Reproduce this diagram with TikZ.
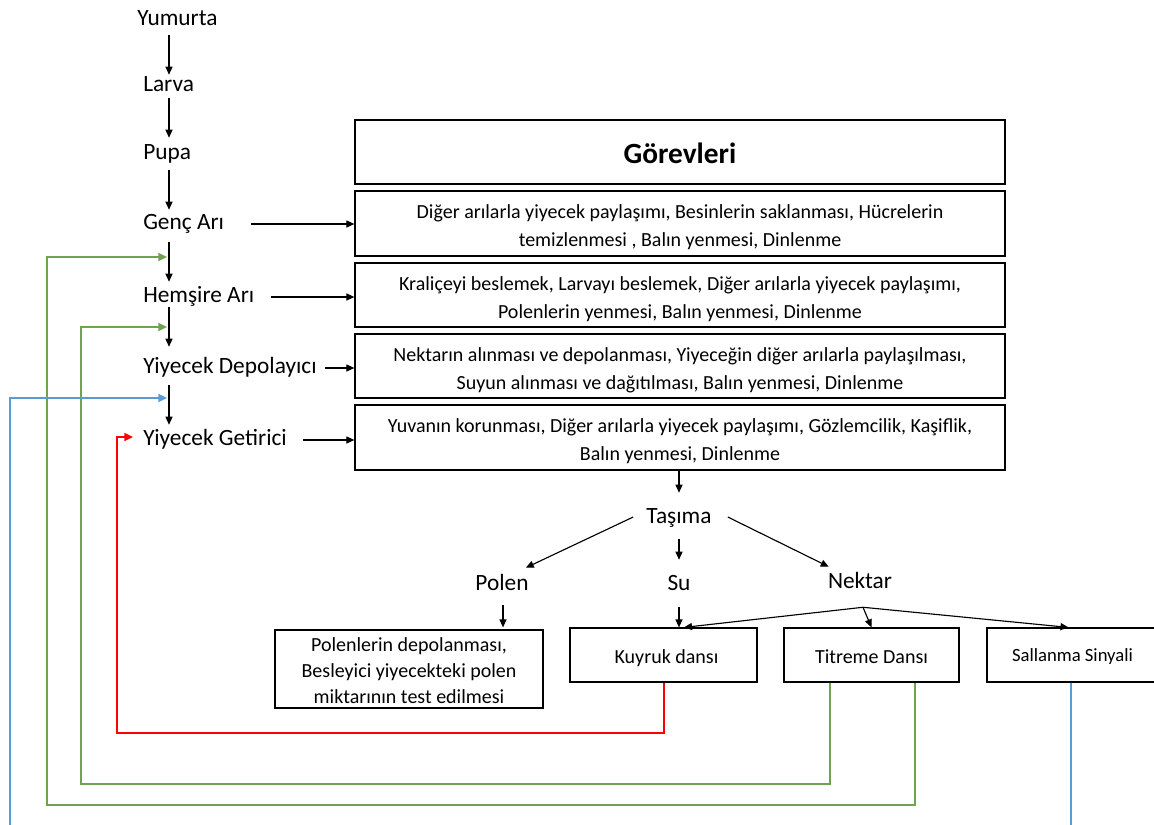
\documentclass[tikz,border=0pt]{standalone}
\usepackage{fontspec}
\setmainfont{Carlito}
\usetikzlibrary{arrows.meta}
\definecolor{grn}{RGB}{112,163,80}
\definecolor{blu}{RGB}{91,155,213}
\definecolor{rd}{RGB}{255,0,0}
\begin{document}
\begin{tikzpicture}[x=0.75pt,y=-0.75pt,
  lbl/.style={font=\fontsize{17.5}{20}\selectfont, inner sep=0pt, text height=11.25pt, text depth=3.75pt, anchor=base west},
  clbl/.style={lbl, anchor=base},
  box/.style={draw, line width=0.9pt, inner sep=0pt},
  txt/.style={inner sep=0pt, align=center, font=\fontsize{15}{21}\selectfont},
  btxt/.style={txt, font=\fontsize{15}{19.5}\selectfont},
  arr/.style={line width=0.85pt, -{Triangle[length=6pt,width=5.25pt]}},
  fb/.style={line width=1.1pt, -{Triangle[length=6.5pt,width=6pt]}}
]
\useasboundingbox (0,0) rectangle (1154,825);

% life stages
\node[lbl] (yum) at (137,25) {Yumurta};
\node[lbl] (lar) at (143,91) {Larva};
\node[lbl] (pup) at (143,159) {Pupa};
\node[lbl] (gen) at (143,229) {Genç Arı};
\node[lbl] (hem) at (143,302) {Hemşire Arı};
\node[lbl] (dep) at (143,373) {Yiyecek Depolayıcı};
\node[lbl] (get) at (143,445) {Yiyecek Getirici};
\coordinate (col) at (169,0);

\draw[arr, shorten <=3.75pt, shorten >=0.75pt] (yum.south -| col) -- (lar.north -| col);
\draw[arr, shorten <=1.5pt, shorten >=4.5pt] (lar.south -| col) -- (pup.north -| col);
\draw[arr, shorten <=4.5pt, shorten >=3pt] (pup.south -| col) -- (gen.north -| col);
\draw[arr, shorten <=6pt, shorten >=3.75pt] (gen.south -| col) -- (hem.north -| col);
\draw[arr, shorten <=0pt, shorten >=8.25pt] (hem.south -| col) -- (dep.north -| col);
\draw[arr, shorten <=5.25pt, shorten >=3.75pt] (dep.south -| col) -- (get.north -| col);

% task boxes
\node[box, minimum width=487.5pt, minimum height=48pt] (gor) at (680,152) {};
\node[txt, font=\fontsize{22}{24}\selectfont\bfseries] at ([shift={(0,1)}]gor.center) {Görevleri};
\node[box, minimum width=487.5pt, minimum height=48.75pt] (b1) at (680,223.5) {};
\node[txt] at ([shift={(0,4)}]b1.center) {Diğer arılarla yiyecek paylaşımı, Besinlerin saklanması, Hücrelerin\\temizlenmesi , Balın yenmesi, Dinlenme};
\node[box, minimum width=487.5pt, minimum height=48pt] (b2) at (680,295) {};
\node[txt] at ([shift={(0,4)}]b2.center) {Kraliçeyi beslemek, Larvayı beslemek, Diğer arılarla yiyecek paylaşımı,\\Polenlerin yenmesi, Balın yenmesi, Dinlenme};
\node[box, minimum width=487.5pt, minimum height=48pt] (b3) at (680,366) {};
\node[txt] at ([shift={(0,4)}]b3.center) {Nektarın alınması ve depolanması, Yiyeceğin diğer arılarla paylaşılması,\\Suyun alınması ve dağıtılması, Balın yenmesi, Dinlenme};
\node[box, minimum width=487.5pt, minimum height=48.75pt] (b4) at (680,437.5) {};
\node[txt] at ([shift={(0,4)}]b4.center) {Yuvanın korunması, Diğer arılarla yiyecek paylaşımı, Gözlemcilik, Kaşiflik,\\Balın yenmesi, Dinlenme};

\draw[arr, shorten <=20.25pt] (gen.east) -- (gen -| b1.west);
\draw[arr, shorten <=12pt] (hem.east) -- (hem -| b2.west);
\draw[arr, shorten <=6pt] (dep.east) -- (dep -| b3.west);
\draw[arr, shorten <=12pt] (get.east) -- (get -| b4.west);

% transport
\node[clbl] (tas) at (679,523) {Taşıma};
\node[clbl] (pol) at (502,590) {Polen};
\node[clbl] (su) at (679,590) {Su};
\node[clbl] (nek) at (860,588) {Nektar};

\draw[arr, shorten >=11.25pt] (b4.south -| tas) -- (tas.north);
\draw[arr] ([shift={(-13,-1)}]tas.west) -- ([shift={(-3,-7)}]pol.north east);
\draw[arr, shorten <=8.25pt, shorten >=11.25pt] (tas.south) -- (su.north);
\draw[arr] ([shift={(16,-1)}]tas.east) -- ([shift={(1,-6)}]nek.north west);

% lower boxes
\node[box, minimum width=201pt, minimum height=58.5pt] (pbox) at (409,669) {};
\node[btxt] at ([shift={(0,1.5)}]pbox.center) {Polenlerin depolanması,\\Besleyici yiyecekteki polen\\miktarının test edilmesi};
\node[box, minimum width=140.25pt, minimum height=40.5pt] (kuy) at (663.5,655) {};
\node[btxt] at ([shift={(3,3)}]kuy.center) {Kuyruk dansı};
\node[box, minimum width=131.25pt, minimum height=40.5pt] (tit) at (871.5,655) {};
\node[btxt] at ([shift={(0,2)}]tit.center) {Titreme Dansı};
\node[box, minimum width=128.25pt, minimum height=40.5pt] (sal) at (1072.5,655) {};
\node[btxt, font=\fontsize{14}{17}\selectfont] at ([shift={(0,2)}]sal.center) {Sallanma Sinyali};

\draw[arr, shorten <=7.5pt, shorten >=1.5pt] ([shift={(1,0)}]pol.south) -- ([shift={(1,0)}]pol.south |- pbox.north);
\draw[arr, shorten <=9pt] (su.south) -- (su.south |- kuy.north);
\coordinate (nb) at ([shift={(3,14)}]nek.south);
\draw[arr] (nb) -- ([shift={(20.5,0)}]kuy.north);
\draw[arr] (nb) -- (tit.north);
\draw[arr] (nb) -- ([shift={(-4,0)}]sal.north);

% feedback lines
\coordinate (bb) at (0,830);
\coordinate (g1) at (167,257);
\coordinate (g2) at (167,327);
\coordinate (b1e) at (167,398);
\coordinate (bl) at (10,830);
\draw[fb, rd] ([shift={(0.5,0)}]kuy.south) |- (117,733) |- ([shift={(-10,-3)}]get.west);
\draw[fb, grn] ([shift={(-41.5,0)}]tit.south) |- (81,784) |- (g2);
\draw[fb, grn] ([shift={(43.5,0)}]tit.south) |- (47,805) |- (g1);
\draw[line width=1.1pt, blu] ([shift={(-1.5,0)}]sal.south) -- ([shift={(-1.5,0)}]sal.south |- bb);
\draw[fb, blu] (bl) |- (b1e);
\end{tikzpicture}
\end{document}
